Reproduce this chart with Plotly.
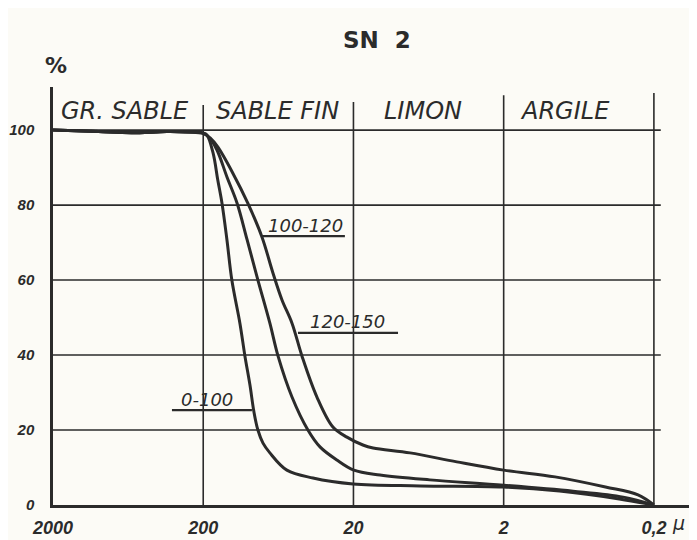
import math

import plotly.graph_objects as go

# Particle size (microns) and cumulative percentage for the three horizons
size_0_100 = [2000, 1000, 600, 350, 250, 201, 189, 172, 160, 150, 139, 129, 114,
              105.5, 97.7, 91.9, 86.5, 80, 72, 55.5, 37.2, 20.1, 7.2, 2, 0.85, 0.34, 0.2]
pct_0_100 = [100, 99.6, 99.3, 99.6, 99.5, 99.2, 98.7, 93.9, 86.7, 80.5, 70.7, 60, 48.5,
             39.7, 32, 24.8, 20, 16.5, 13.9, 9.3, 7.2, 5.6, 5.1, 4.8, 3.7, 1.6, 0]

size_100_120 = [2000, 1000, 600, 350, 250, 201, 183, 162, 139, 119, 102, 86.5, 72,
                63.5, 51.3, 40.2, 33.4, 25.8, 19.9, 13.3, 6.2, 2, 0.69, 0.32, 0.2]
pct_100_120 = [100, 99.6, 99.3, 99.6, 99.5, 99.2, 98.1, 94.7, 87.5, 80.5, 70.7, 60, 48.5,
               39.7, 28.8, 20, 15.5, 12, 9.3, 8, 6.7, 5.3, 3.7, 2.1, 0]

size_120_150 = [2000, 1000, 600, 350, 250, 201, 180, 160, 127, 101, 81.3, 68.7, 59.8,
                51.3, 44, 35, 27.4, 22.1, 17.3, 14.8, 8.4, 4.1, 2, 0.91, 0.42, 0.255, 0.2]
pct_120_150 = [100, 99.6, 99.3, 99.6, 99.5, 99.2, 97.9, 95.5, 88.5, 80.5, 71.5, 61.9, 54.7,
               48.5, 39.7, 28.8, 20.8, 18.1, 16, 15.2, 13.9, 11.5, 9.3, 7.5, 4.8, 2.7, 0]

x_ticks = [2000, 200, 20, 2, 0.2]
x_tick_text = ["2000", "200", "20", "2", "0,2"]
y_ticks = [0, 20, 40, 60, 80, 100]

fractions = ["GR. SABLE", "SABLE FIN", "LIMON", "ARGILE"]
fraction_centres = [664, 63.6, 6.9, 0.78]

INK = "#2b2b2b"
PAPER = "#fcfbf6"
HAND = "DejaVu Sans"
DIGITS = "Liberation Sans"

lg = math.log10

fig = go.Figure()

for sizes, pcts, name in [(size_0_100, pct_0_100, "0-100"),
                          (size_100_120, pct_100_120, "100-120"),
                          (size_120_150, pct_120_150, "120-150")]:
    fig.add_trace(go.Scatter(
        x=sizes, y=pcts, mode="lines", name=name,
        line=dict(color=INK, width=3, shape="spline", smoothing=1.0),
        showlegend=False,
    ))

# shapes on the log axis take plain data values here
shapes = []
for v in y_ticks[1:]:
    shapes.append(dict(type="line", xref="x", yref="y", x0=2000, x1=0.18,
                       y0=v, y1=v, line=dict(color=INK, width=1.6), layer="below"))
for xv, top in zip(x_ticks[1:], [106.7, 107.5, 109.3, 109.9]):
    shapes.append(dict(type="line", xref="x", yref="y", x0=xv, x1=xv,
                       y0=-1.5, y1=top, line=dict(color=INK, width=1.6), layer="below"))

# underlined curve labels (text centre, underline span, underline level)
labels = [("100-120", 42, 74.6, 81.3, 22.8, 71.7),
          ("120-150", 21.8, 49.0, 46.8, 10.1, 45.9),
          ("0-100", 189, 28.2, 323, 94.8, 25.3)]
annotations = []
for text, xc, yc, xa, xb, yl in labels:
    shapes.append(dict(type="line", xref="x", yref="y", x0=xa, x1=xb,
                       y0=yl, y1=yl, line=dict(color=INK, width=2.2)))
    annotations.append(dict(x=lg(xc), y=yc, xref="x", yref="y", text=text,
                            showarrow=False,
                            font=dict(family=HAND, size=18, color=INK,
                                      style="italic")))

for text, xc in zip(fractions, fraction_centres):
    annotations.append(dict(x=lg(xc), y=105.1, xref="x", yref="y", text=text,
                            showarrow=False,
                            font=dict(family=HAND, size=24, color=INK,
                                      style="italic")))

annotations += [
    dict(x=(377 - 53) / 637, y=(505 - 40) / 418, xref="paper", yref="paper",
         yanchor="middle", text="<b>SN&nbsp;&nbsp;2</b>", showarrow=False,
         font=dict(family="DejaVu Sans", size=23, color=INK)),
    dict(x=(43 - 53) / 637, y=(505 - 65) / 418, xref="paper", yref="paper",
         yanchor="middle", text="<b>%</b>", showarrow=False,
         font=dict(family=HAND, size=22, color=INK)),
    dict(x=(687 - 53) / 637, y=(505 - 523) / 418, xref="paper", yref="paper",
         yanchor="middle", text="µ", showarrow=False,
         font=dict(family=HAND, size=19, color=INK, style="italic")),
]

fig.update_layout(
    width=697, height=540,
    # the page body adds 8px on the left and top
    margin=dict(l=45, r=15, t=79, b=43, autoexpand=False),
    paper_bgcolor=PAPER, plot_bgcolor=PAPER,
    shapes=shapes,
    annotations=annotations,
    xaxis=dict(
        type="log", range=[lg(2000), lg(0.115)], automargin=False,
        tickvals=x_ticks, ticktext=x_tick_text,
        showgrid=False, zeroline=False,
        showline=True, linecolor=INK, linewidth=2.5,
        ticks="", ticklabelstandoff=5,
        tickfont=dict(family=DIGITS, size=18, color=INK, style="italic", weight="bold"),
    ),
    yaxis=dict(
        range=[0, 111.5], tickvals=y_ticks, automargin=False,
        showgrid=False, zeroline=False,
        showline=True, linecolor=INK, linewidth=2.5,
        ticks="", ticklabelstandoff=13,
        tickfont=dict(family=DIGITS, size=15, color=INK, style="italic", weight="bold"),
    ),
)

fig.write_html("out.html")
